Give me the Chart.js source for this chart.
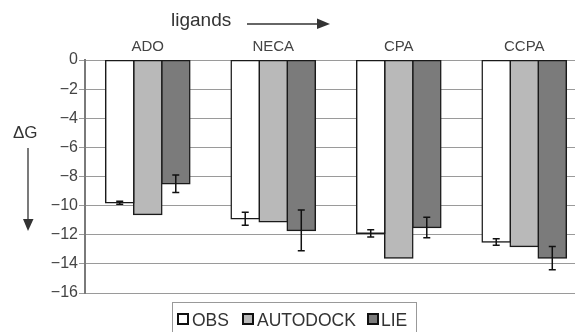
<!DOCTYPE html>
<html>
<head>
<meta charset="utf-8">
<script src="https://cdn.jsdelivr.net/npm/chart.js@4.4.1/dist/chart.umd.min.js"></script>
<style>
  html, body { margin: 0; padding: 0; background: #fff; overflow: hidden; }
  #wrap { position: relative; width: 587px; height: 332px; }
</style>
</head>
<body>
<div id="wrap"><canvas id="chart"></canvas></div>
<script>
/* ── Data ─────────────────────────────────────────────── */
const ligands = ['ADO', 'NECA', 'CPA', 'CCPA'];
const seriesNames = ['OBS', 'AUTODOCK', 'LIE'];
const obs = [-9.8, -10.9, -11.9, -12.5];
const obsErr = [0.1, 0.45, 0.25, 0.22];
const autodock = [-10.6, -11.1, -13.6, -12.8];
const lie = [-8.5, -11.7, -11.5, -13.6];
const lieErr = [0.6, 1.4, 0.7, 0.8];
const yTicks = [0, -2, -4, -6, -8, -10, -12, -14, -16];

const colors = ['#ffffff', '#b9b9b9', '#7b7b7b'];
const FONT = 'Liberation Sans, Arial, sans-serif';

/* ── Error bars ───────────────────────────────────────── */
const errorBars = {
    id: 'errorBars',
    afterDatasetsDraw(chart) {
        const { ctx } = chart;
        const y = chart.scales.y;
        const errs = [obsErr, null, lieErr];
        ctx.save();
        ctx.strokeStyle = '#111';
        ctx.lineWidth = 1.5;
        errs.forEach((err, di) => {
            if (!err) return;
            const meta = chart.getDatasetMeta(di);
            meta.data.forEach((bar, i) => {
                const v = chart.data.datasets[di].data[i];
                const x = bar.x;
                const y1 = y.getPixelForValue(v + err[i]);
                const y2 = y.getPixelForValue(v - err[i]);
                ctx.beginPath();
                ctx.moveTo(x, y1); ctx.lineTo(x, y2);
                ctx.moveTo(x - 3.5, y1); ctx.lineTo(x + 3.5, y1);
                ctx.moveTo(x - 3.5, y2); ctx.lineTo(x + 3.5, y2);
                ctx.stroke();
            });
        });
        ctx.restore();
    }
};

/* ── Annotations: ligands arrow, ΔG arrow, legend ─────── */
const annotations = {
    id: 'annotations',
    afterDraw(chart) {
        const { ctx } = chart;
        ctx.save();
        ctx.fillStyle = '#333';
        ctx.strokeStyle = '#333';
        ctx.textBaseline = 'alphabetic';
        ctx.textAlign = 'left';

        // "ligands" with arrow
        ctx.font = '19px ' + FONT;
        ctx.fillText('ligands', 171, 26);
        ctx.lineWidth = 1.3;
        ctx.beginPath(); ctx.moveTo(247, 24); ctx.lineTo(320, 24); ctx.stroke();
        ctx.beginPath(); ctx.moveTo(330, 24); ctx.lineTo(317, 18.5); ctx.lineTo(317, 29); ctx.closePath(); ctx.fill();

        // ΔG with arrow down
        ctx.font = '17px ' + FONT;
        ctx.fillText('\u0394G', 13, 138);
        ctx.beginPath(); ctx.moveTo(28, 148); ctx.lineTo(28, 222); ctx.stroke();
        ctx.beginPath(); ctx.moveTo(28, 231); ctx.lineTo(23, 219); ctx.lineTo(33.5, 219); ctx.closePath(); ctx.fill();

        // Legend box
        ctx.strokeStyle = '#999';
        ctx.lineWidth = 1;
        ctx.strokeRect(172.5, 302.5, 244, 40);
        const items = [
            { x: 177, tx: 192 },
            { x: 242, tx: 257 },
            { x: 367, tx: 381 }
        ];
        ctx.font = '17.5px ' + FONT;
        items.forEach((it, i) => {
            ctx.fillStyle = colors[i];
            ctx.fillRect(it.x, 313, 12, 12);
            ctx.strokeStyle = '#111';
            ctx.lineWidth = 2;
            ctx.strokeRect(it.x + 1, 314, 10, 10);
            ctx.fillStyle = '#333';
            ctx.fillText(seriesNames[i], it.tx, 326);
        });
        ctx.restore();
    }
};

/* ── Chart ────────────────────────────────────────────── */
const ctx = document.getElementById('chart').getContext('2d');

new Chart(ctx, {
    type: 'bar',
    data: {
        labels: ligands,
        datasets: [obs, autodock, lie].map((d, i) => ({
            label: seriesNames[i],
            data: d,
            backgroundColor: colors[i],
            borderColor: '#1a1a1a',
            borderWidth: 1.5,
            borderSkipped: false,
            inflateAmount: 0.8,
            categoryPercentage: 0.67,
            barPercentage: 1.0,
        }))
    },
    options: {
        responsive: true,
        maintainAspectRatio: false,
        animation: false,
        layout: { padding: { left: 0, right: 0, top: 0, bottom: 39 } },
        plugins: {
            legend: { display: false },
            tooltip: { enabled: false }
        },
        scales: {
            x: {
                position: 'top',
                grid: { display: false, drawTicks: false },
                border: { display: false },
                ticks: {
                    font: { family: FONT, size: 15 },
                    color: '#444',
                    padding: 4,
                },
                afterFit: s => { s.height = 60; }
            },
            y: {
                min: -16,
                max: 0,
                afterBuildTicks: s => { s.ticks = yTicks.map(v => ({ value: v })); },
                grid: {
                    color: '#9a9a9a',
                    lineWidth: 1,
                    tickLength: 6,
                },
                border: { display: true, color: '#7a7a7a', width: 2 },
                ticks: {
                    font: { family: FONT, size: 16 },
                    color: '#444',
                    padding: 1,
                    callback: v => String(v).replace('-', '\u2212'),
                },
                afterFit: s => { s.width = 85; }
            }
        }
    },
    plugins: [errorBars, annotations]
});
</script>
</body>
</html>
